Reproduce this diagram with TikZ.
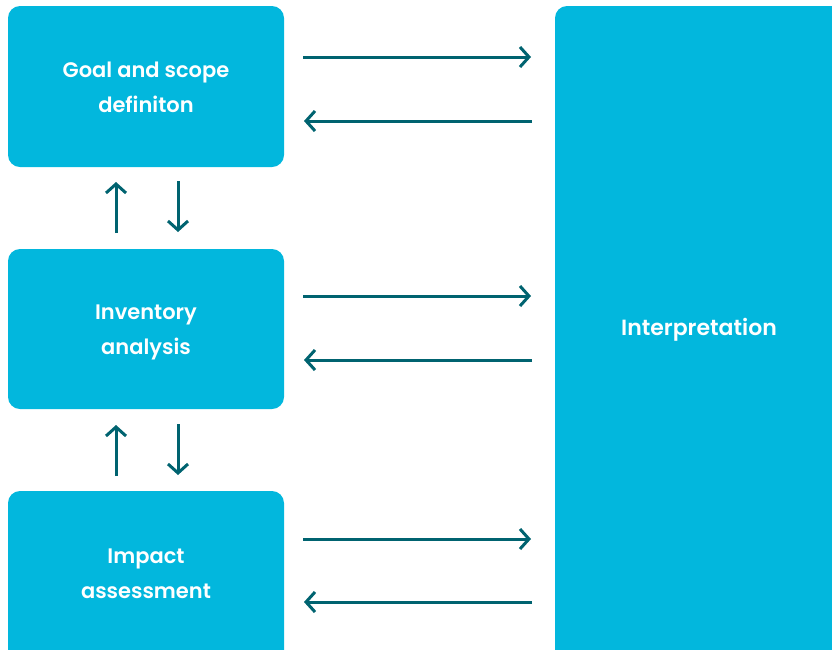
\documentclass[tikz,border=0pt]{standalone}
\usepackage{fontspec}
\setmainfont{Poppins}[BoldFont={Poppins SemiBold}]
\usetikzlibrary{arrows.meta}
\definecolor{boxc}{RGB}{2,183,221}
\definecolor{arrc}{RGB}{0,99,112}
\begin{document}
\begin{tikzpicture}[x=1pt,y=-1pt,
  stagebox/.style={fill=boxc,draw=none,rounded corners=12pt,text=white,font=\bfseries\fontsize{21}{35}\selectfont,align=center},
  flow/.style={draw=arrc,line width=3pt,-{Straight Barb[length=9pt,width=20pt,line width=3pt]}}]
\useasboundingbox (0,0) rectangle (832,649);
\clip (0,0) rectangle (832,649);
\path[stagebox] (8,6) rectangle (284,167);
\path[stagebox] (8,249) rectangle (284,409);
\path[stagebox] (8,491) rectangle (284,670);
\path[stagebox] (555,6) rectangle (860,670);
\node[stagebox,fill=none] (goal) at (146,87) {Goal and scope\\definiton};
\node[stagebox,fill=none] (inv) at (146,332) {Inventory\\analysis};
\node[stagebox,fill=none] (imp) at (146,573.5) {Impact\\assessment};
\node[stagebox,fill=none,font=\bfseries\fontsize{22}{35}\selectfont] (interp) at (699,330) {Interpretation};
\coordinate (a1s) at (303,57); \coordinate (a1e) at (531,57);
\coordinate (b1s) at (532,121); \coordinate (b1e) at (304,121);
\coordinate (a2s) at (303,296); \coordinate (a2e) at (531,296);
\coordinate (b2s) at (532,360); \coordinate (b2e) at (304,360);
\coordinate (a3s) at (303,539); \coordinate (a3e) at (531,539);
\coordinate (b3s) at (532,602); \coordinate (b3e) at (304,602);
\draw[flow] (a1s) -- (a1e);
\draw[flow] (b1s) -- (b1e);
\draw[flow] (a2s) -- (a2e);
\draw[flow] (b2s) -- (b2e);
\draw[flow] (a3s) -- (a3e);
\draw[flow] (b3s) -- (b3e);
\coordinate (u1s) at (116,233); \coordinate (u1e) at (116,182);
\coordinate (d1s) at (178,181); \coordinate (d1e) at (178,232);
\coordinate (u2s) at (116,476); \coordinate (u2e) at (116,425);
\coordinate (d2s) at (178,424); \coordinate (d2e) at (178,475);
\draw[flow] (u1s) -- (u1e);
\draw[flow] (d1s) -- (d1e);
\draw[flow] (u2s) -- (u2e);
\draw[flow] (d2s) -- (d2e);
\end{tikzpicture}
\end{document}
